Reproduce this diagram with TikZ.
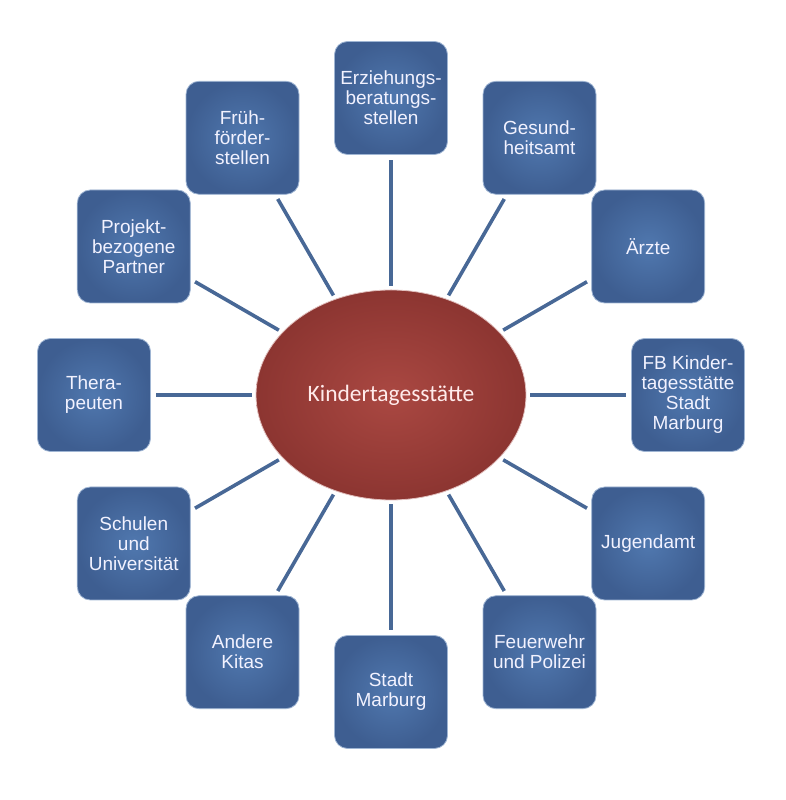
\documentclass[tikz,border=0pt]{standalone}
\usepackage{fontspec}
\setmainfont{Liberation Sans}
\newfontfamily\calib{Carlito}
\usetikzlibrary{shapes.geometric,calc}
\definecolor{boxin}{RGB}{80,120,175}
\definecolor{boxout}{RGB}{62,94,145}
\definecolor{ellin}{RGB}{170,72,66}
\definecolor{ellout}{RGB}{140,53,49}
\definecolor{linkc}{RGB}{72,104,150}
\begin{document}
\begin{tikzpicture}[x=1pt,y=1pt,
 satbox/.style={rectangle, rounded corners=13pt, minimum width=113pt, minimum height=113pt, inner sep=0pt, shading=radial, inner color=boxin, outer color=boxout, draw=boxin!55!white, line width=0.8pt, text=white!95!blue, align=center, font=\fontsize{19}{20}\selectfont},
 hub/.style={ellipse, minimum width=270pt, minimum height=210pt, inner sep=0pt, shading=radial, inner color=ellin, outer color=ellout, draw=ellin!35!white, line width=0.8pt, text=white!92!red, font=\calib\fontsize{23.5}{27}\selectfont},
 link/.style={draw=linkc, line width=3.6pt, shorten <=4pt, shorten >=5pt}]
\useasboundingbox (0,0) rectangle (785,800);
\node[hub] (k) at (391,405) {Kindertagesstätte};
\node[satbox] (s1) at ($(k.center)+(90:297)$) {Erziehungs-\\beratungs-\\stellen};
\node[satbox] (s2) at ($(k.center)+(60:297)$) {Gesund-\\heitsamt};
\node[satbox] (s3) at ($(k.center)+(30:297)$) {Ärzte};
\node[satbox] (s4) at ($(k.center)+(0:297)$) {FB Kinder-\\tagesstätte\\Stadt\\Marburg};
\node[satbox] (s5) at ($(k.center)+(-30:297)$) {Jugendamt};
\node[satbox] (s6) at ($(k.center)+(-60:297)$) {Feuerwehr\\und Polizei};
\node[satbox] (s7) at ($(k.center)+(-90:297)$) {Stadt\\Marburg};
\node[satbox] (s8) at ($(k.center)+(-120:297)$) {Andere\\Kitas};
\node[satbox] (s9) at ($(k.center)+(-150:297)$) {Schulen\\und\\Universität};
\node[satbox] (s10) at ($(k.center)+(180:297)$) {Thera-\\peuten};
\node[satbox] (s11) at ($(k.center)+(150:297)$) {Projekt-\\bezogene\\Partner};
\node[satbox] (s12) at ($(k.center)+(120:297)$) {Früh-\\förder-\\stellen};
\foreach \i in {1,...,12} {\draw[link] (k) -- (s\i);}
\end{tikzpicture}
\end{document}
